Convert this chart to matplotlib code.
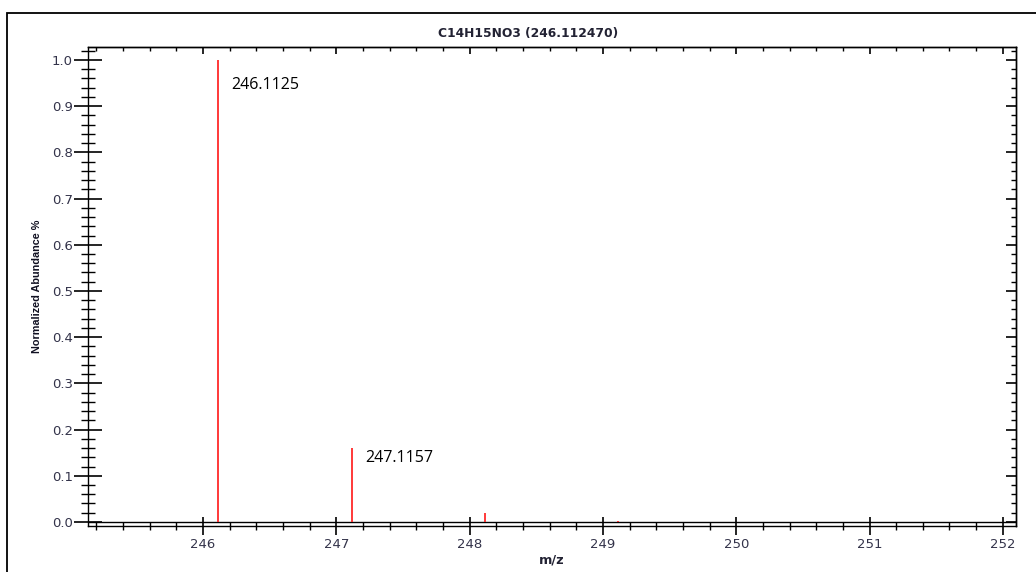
import matplotlib
matplotlib.use("Agg")
import matplotlib.pyplot as plt
from matplotlib.ticker import MultipleLocator, FormatStrFormatter
from matplotlib.patches import Rectangle

# Data
mz = [246.1125, 247.1157, 248.1130, 249.1160, 250.1180]
abundance = [1.0, 0.160, 0.020, 0.002, 0.0002]
peak_labels = ["246.1125", "247.1157"]
title = "C14H15NO3 (246.112470)"
xlabel = "m/z"
ylabel = "Normalized Abundance %"

W, H = 1036, 572
fig = plt.figure(figsize=(W / 100, H / 100), dpi=100)
fig.patch.set_facecolor("white")

# Outer frame (partially visible)
fig.patches.append(Rectangle((7 / W, -0.1), 1.2, 1 - 13 / H + 0.1, transform=fig.transFigure,
                             fill=False, edgecolor="black", linewidth=1.3, zorder=0))

ax = fig.add_axes([88 / W, 1 - 526 / H, (1016 - 88) / W, (526 - 47) / H])
ax.set_xlim(245.137, 252.099)
ax.set_ylim(-0.0087, 1.028)

ax.vlines(mz, 0, abundance, color="#ff2a2a", linewidth=1.3, zorder=3)
ax.axhline(0, color="black", linewidth=1.0, zorder=2)

lab_font = dict(family=["Open Sans", "DejaVu Sans"], fontsize=11.5, color="black")
ax.text(mz[0] + 0.1, abundance[0] - 0.054, peak_labels[0], ha="left", va="center", **lab_font)
ax.text(mz[1] + 0.1, abundance[1] - 0.021, peak_labels[1], ha="left", va="center", **lab_font)

for s in ax.spines.values():
    s.set_linewidth(1.0)
    s.set_color("black")

ax.xaxis.set_major_locator(MultipleLocator(1))
ax.xaxis.set_minor_locator(MultipleLocator(0.2))
ax.yaxis.set_major_locator(MultipleLocator(0.1))
ax.yaxis.set_minor_locator(MultipleLocator(0.02))
ax.yaxis.set_major_formatter(FormatStrFormatter("%.1f"))

ax.tick_params(axis="x", which="major", direction="inout", length=13, width=1.2,
               labelsize=9.5, labelcolor="#33334a", pad=2)
ax.tick_params(axis="x", which="minor", direction="inout", length=6, width=1.0)
ax.tick_params(axis="y", which="major", direction="inout", length=20, width=1.2,
               labelsize=9.5, labelcolor="#33334a", pad=1)
ax.tick_params(axis="y", which="minor", direction="inout", length=10, width=1.0)
for lbl in ax.get_xticklabels() + ax.get_yticklabels():
    lbl.set_fontfamily(["DejaVu Sans"])

# Top and right inward ticks
secx = ax.secondary_xaxis("top")
secx.xaxis.set_major_locator(MultipleLocator(1))
secx.xaxis.set_minor_locator(MultipleLocator(0.2))
secx.tick_params(which="major", direction="in", length=5, width=1.2, labeltop=False)
secx.tick_params(which="minor", direction="in", length=3, width=1.0)
secx.spines["top"].set_linewidth(1.0)

secy = ax.secondary_yaxis("right")
secy.yaxis.set_major_locator(MultipleLocator(0.1))
secy.yaxis.set_minor_locator(MultipleLocator(0.02))
secy.tick_params(which="major", direction="in", length=7, width=1.2, labelright=False)
secy.tick_params(which="minor", direction="in", length=3.5, width=1.0)
secy.spines["right"].set_linewidth(1.0)

fig.text(528 / W, 1 - 33 / H, title, ha="center", va="center", fontsize=8.8, fontweight="bold",
         family=["DejaVu Sans"], color="#222233")
fig.text(552 / W, 1 - 560 / H, xlabel, ha="center", va="center", fontsize=9.3, fontweight="bold",
         family=["DejaVu Sans"], color="#222233")
fig.text(37.5 / W, 1 - 286 / H, ylabel, ha="center", va="center", rotation=90, fontsize=7.8,
         fontweight="bold", family=["Liberation Sans Narrow", "Liberation Sans", "DejaVu Sans"],
         color="#111122")

fig.savefig("out.png", dpi=100)
